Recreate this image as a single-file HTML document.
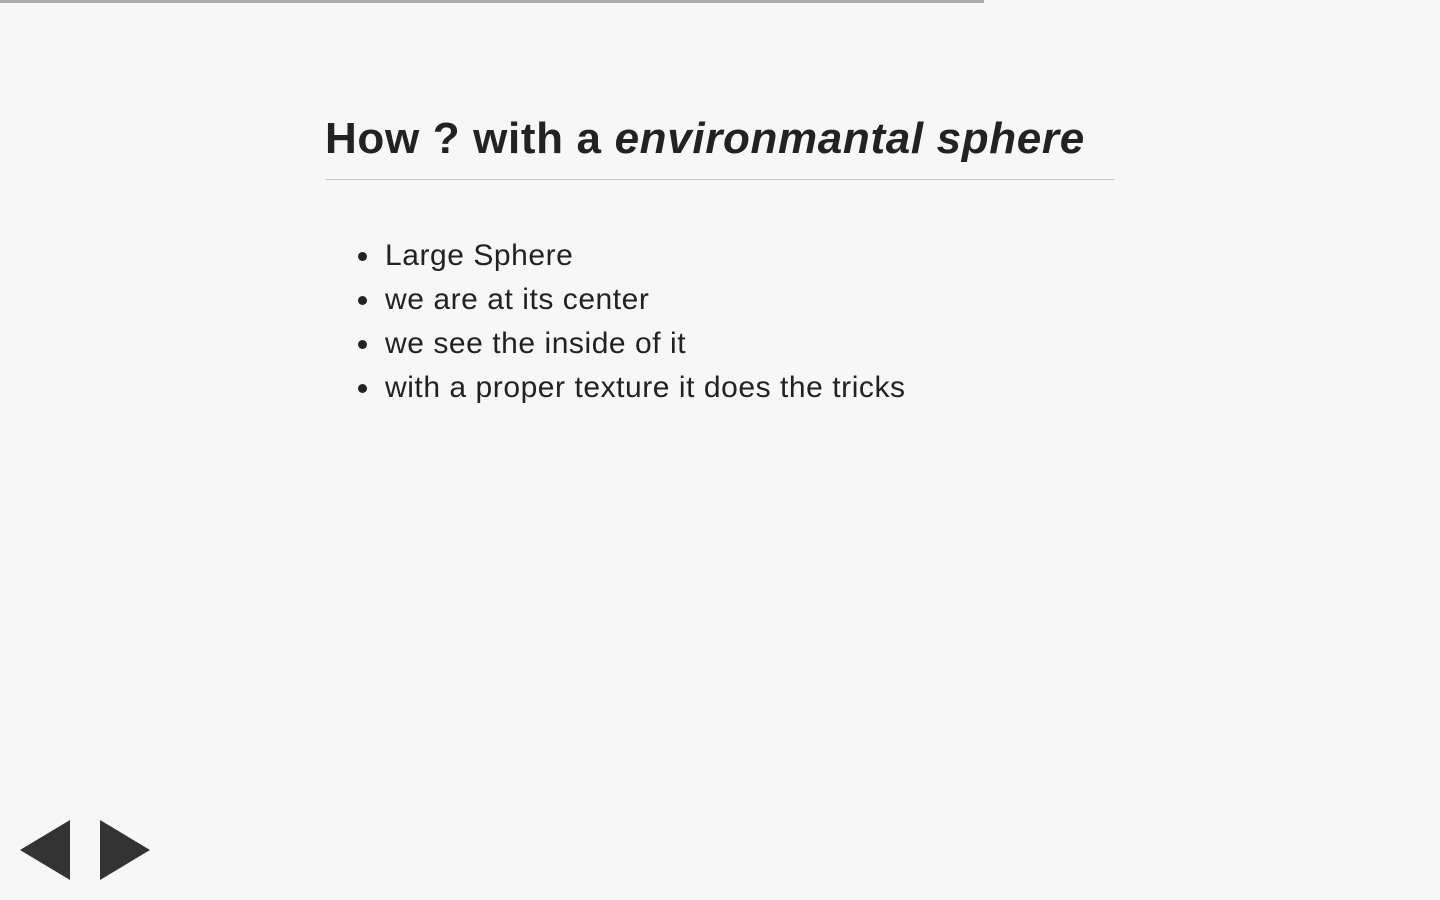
<!DOCTYPE html>
<html><head><meta charset="utf-8"><style>
html,body{margin:0;padding:0;background:#f7f7f7;width:1440px;height:900px;overflow:hidden;font-family:"Liberation Sans",sans-serif;color:#222}
#progress{position:absolute;left:0;top:0;width:984px;height:3px;background:#aaa}
h1{position:absolute;left:325px;top:113px;margin:0;font-size:44px;font-weight:bold;letter-spacing:0.65px;line-height:52px;white-space:nowrap}
#rule{position:absolute;left:325px;top:179px;width:790px;height:1px;background:#c8c8c8}
ul{position:absolute;left:385px;top:234px;margin:0;padding:0;list-style:none;font-size:30px;line-height:44px;letter-spacing:0.55px}
li{position:relative;white-space:nowrap}
li:before{content:"";position:absolute;left:-27px;top:18px;width:9px;height:9px;border-radius:50%;background:#222}
.arrow{position:absolute;top:820px;width:0;height:0;border-top:30px solid transparent;border-bottom:30px solid transparent;cursor:pointer}
#prev{left:20px;border-right:50px solid #333}
#next{left:100px;border-left:50px solid #333}
</style></head><body>
<div id="progress"></div>
<h1>How ? with a <i>environmantal sphere</i></h1>
<div id="rule"></div>
<ul>
<li>Large Sphere</li>
<li>we are at its center</li>
<li>we see the inside of it</li>
<li>with a proper texture it does the tricks</li>
</ul>
<div id="prev" class="arrow"></div>
<div id="next" class="arrow"></div>
</body></html>
